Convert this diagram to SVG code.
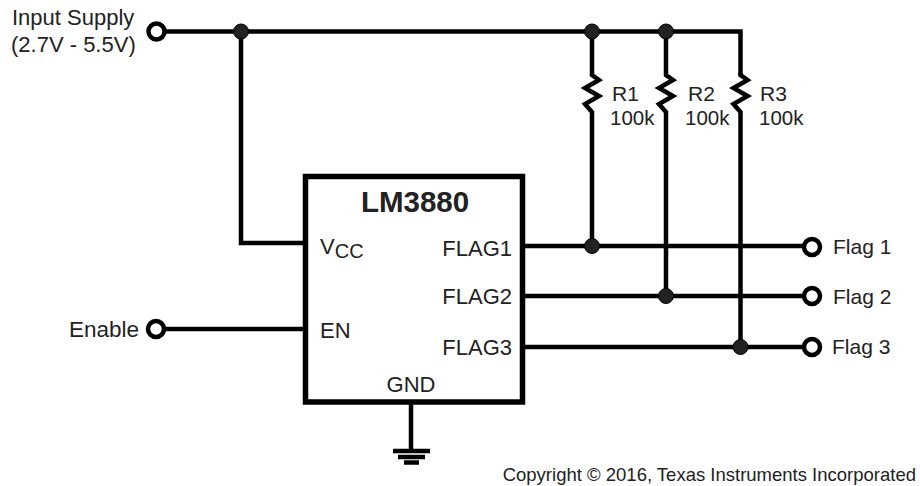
<svg xmlns="http://www.w3.org/2000/svg" width="920" height="486" viewBox="0 0 920 486">
<style>
.w{fill:none;stroke:#000;stroke-width:4.500;stroke-linejoin:miter}
.t{font-family:"Liberation Sans",Arial,sans-serif;font-size:22px;fill:#222}
.s{font-size:21px}
.d{fill:#222;stroke:#000;stroke-width:1}
.o{fill:#fff;stroke:#000;stroke-width:4.500}
</style>
<rect width="920" height="486" fill="#fff"/>
<g id="connectors">
<path class="w" d="M165 31.500H740.500V75"/>
<path class="w" d="M241 31.500V243H305"/>
<path class="w" d="M592 31.500V75L599 80L585 88L599 96L585 104L592 112V246"/>
<path class="w" d="M666 31.500V75L673 80L659 88L673 96L659 104L666 112V296"/>
<path class="w" d="M740.500 73V75L747.500 80L733.500 88L747.500 96L733.500 104L740.500 112V347"/>
<path class="w" d="M523 246H804M523 296H804M523 347H804"/>
<path class="w" d="M165 329H305"/>
<path class="w" d="M411 403V450"/>
<path d="M393 451H430" fill="none" stroke="#000" stroke-width="4.500"/>
<path d="M398 457H425" fill="none" stroke="#000" stroke-width="4.500"/>
<path d="M404 462.500H419" fill="none" stroke="#000" stroke-width="4.500"/>
<circle class="d" cx="241" cy="31.500" r="7.500"/>
<circle class="d" cx="592" cy="31.500" r="7.500"/>
<circle class="d" cx="666" cy="31.500" r="7.500"/>
<circle class="d" cx="592" cy="246" r="7.500"/>
<circle class="d" cx="666" cy="296" r="7.500"/>
<circle class="d" cx="740.500" cy="347" r="7.500"/>
</g>
<g id="lm3880">
<rect x="305.500" y="176.500" width="217" height="225.500" fill="#fff" stroke="#000" stroke-width="5.500"/>
<text x="415" y="212" text-anchor="middle" style="font-family:'Liberation Sans',Arial,sans-serif;font-size:29.500px;font-weight:700;fill:#222">LM3880</text>
<text class="t" x="320" y="254">V<tspan dy="4" font-size="20">CC</tspan></text>
<text class="t" x="320" y="338">EN</text>
<text class="t" x="512" y="256" text-anchor="end">FLAG1</text>
<text class="t" x="512" y="304" text-anchor="end">FLAG2</text>
<text class="t" x="512" y="355" text-anchor="end">FLAG3</text>
<text class="t" x="411" y="392" text-anchor="middle">GND</text>
</g>
<g id="input-supply">
<circle class="o" cx="156.500" cy="31.500" r="8"/>
<text class="t" x="12" y="25">Input Supply</text>
<text class="t" x="11" y="52">(2.7V - 5.5V)</text>
</g>
<g id="enable">
<circle class="o" cx="156" cy="329" r="8"/>
<text class="t" x="69" y="337" style="font-size:22.500px">Enable</text>
</g>
<g id="flag1"><circle class="o" cx="812" cy="247" r="8"/><text class="t s" x="833" y="254">Flag 1</text></g>
<g id="flag2"><circle class="o" cx="812" cy="296" r="8"/><text class="t s" x="833" y="304">Flag 2</text></g>
<g id="flag3"><circle class="o" cx="812" cy="347" r="8"/><text class="t s" x="832" y="354">Flag 3</text></g>
<g id="r1"><text class="t s" x="612" y="101">R1</text><text class="t" style="font-size:20.500px" x="610" y="125">100k</text></g>
<g id="r2"><text class="t s" x="688" y="101">R2</text><text class="t" style="font-size:20.500px" x="685" y="125">100k</text></g>
<g id="r3"><text class="t s" x="760" y="101">R3</text><text class="t" style="font-size:20.500px" x="759" y="125">100k</text></g>
<text id="copyright" x="916" y="481" text-anchor="end" style="font-family:'Liberation Sans',Arial,sans-serif;font-size:18.500px;fill:#222">Copyright © 2016, Texas Instruments Incorporated</text>
</svg>
